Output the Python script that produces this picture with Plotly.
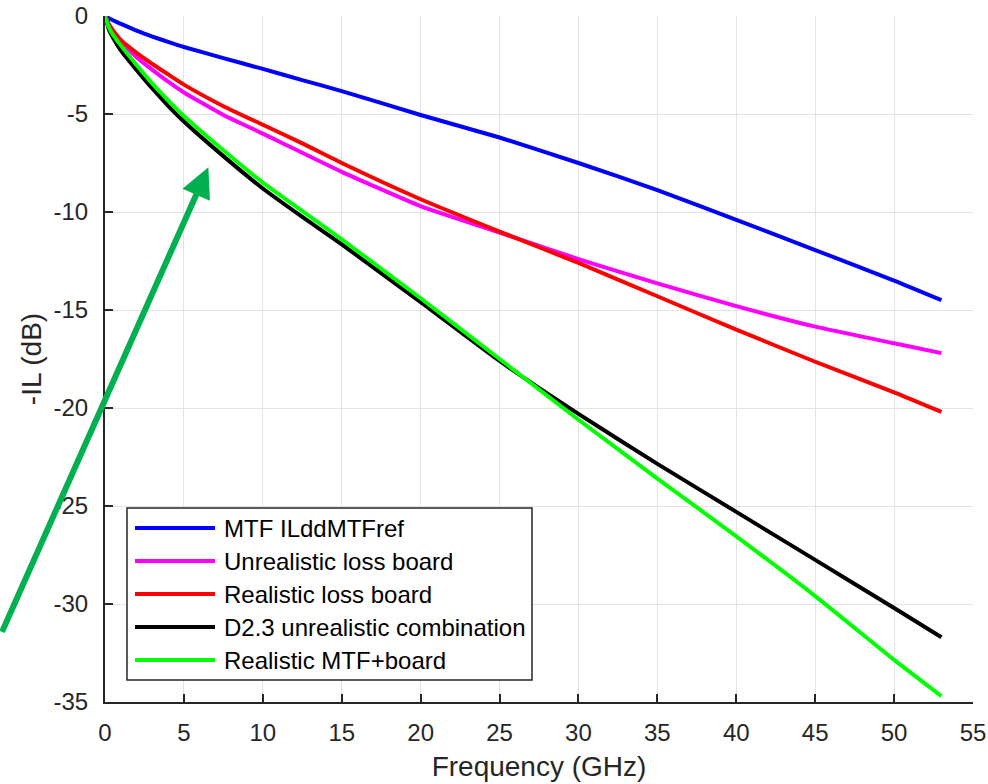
import plotly.graph_objects as go

# ---- data ----
freq_ghz = [0, 0.25, 0.5, 1, 2, 3, 4, 5, 7.5, 10, 12.5, 15, 20, 25, 30, 35, 40, 45, 50, 53]
mtf_ref = [0, -0.12, -0.22, -0.4, -0.75, -1.05, -1.32, -1.58, -2.15, -2.7, -3.27, -3.83,
           -5.05, -6.2, -7.5, -8.88, -10.4, -11.94, -13.5, -14.5]
unrealistic_board = [0, -0.45, -0.78, -1.3, -2.1, -2.75, -3.35, -3.9, -5.05, -6.0, -6.98, -7.95,
                     -9.7, -11.05, -12.4, -13.64, -14.8, -15.85, -16.7, -17.2]
realistic_board = [0, -0.42, -0.72, -1.22, -1.88, -2.45, -2.98, -3.5, -4.6, -5.55, -6.5, -7.5,
                   -9.35, -11.0, -12.6, -14.3, -16.0, -17.64, -19.2, -20.2]
d23_combination = [0, -0.7, -1.1, -1.75, -2.75, -3.7, -4.58, -5.38, -7.15, -8.8, -10.25, -11.65,
                   -14.6, -17.6, -20.3, -22.85, -25.3, -27.75, -30.2, -31.7]
realistic_mtf_board = [0, -0.6, -0.95, -1.5, -2.5, -3.45, -4.3, -5.1, -6.85, -8.5, -9.95, -11.4,
                       -14.4, -17.5, -20.6, -23.6, -26.55, -29.6, -32.85, -34.7]

series_names = ["MTF ILddMTFref", "Unrealistic loss board", "Realistic loss board",
                "D2.3 unrealistic combination", "Realistic MTF+board"]
series_values = [mtf_ref, unrealistic_board, realistic_board, d23_combination, realistic_mtf_board]
series_colors = ["#0000ff", "#ff00ff", "#ff0000", "#000000", "#00ff00"]

x_ticks = list(range(0, 56, 5))
x_tick_labels = [str(v) for v in x_ticks]
y_ticks = list(range(-35, 1, 5))
y_tick_labels = [str(v) for v in y_ticks]  # plain hyphen-minus, as in the reference

FONT = "Liberation Sans, Arial, Helvetica, sans-serif"
AX = "#262626"

fig = go.Figure()
for name, vals, col in zip(series_names, series_values, series_colors):
    fig.add_trace(go.Scatter(x=freq_ghz, y=vals, mode="lines", name=name,
                             line=dict(color=col, width=4, shape="spline", smoothing=0.5),
                             showlegend=False, hoverinfo="skip"))

# plot-area geometry (pixels) used to place the hand-drawn legend in paper coords
FW, FH = 988, 784
L, R, T, B = 105, 15, 16, 82
W, H = FW - L - R, FH - T - B


def px(xp):
    return (xp - L) / W


def py(yp):
    return (FH - B - yp) / H


shapes = [dict(type="rect", xref="paper", yref="paper",
               x0=px(127), x1=px(532), y0=py(680), y1=py(508),
               line=dict(color=AX, width=1.5), fillcolor="white", layer="above")]
annotations = []
row_y = [528, 561, 594, 627, 660]
for ry, name, col in zip(row_y, series_names, series_colors):
    shapes.append(dict(type="line", xref="paper", yref="paper",
                       x0=px(135), x1=px(215), y0=py(ry), y1=py(ry),
                       line=dict(color=col, width=4), layer="above"))
    annotations.append(dict(xref="paper", yref="paper", x=px(222), y=py(ry),
                            xanchor="left", yanchor="middle", text=name, showarrow=False,
                            font=dict(family=FONT, size=24, color="#000000")))

# green arrow annotation
annotations.append(dict(x=6.55, y=-7.72, xref="x", yref="y", text="", showarrow=True,
                        arrowhead=2, arrowsize=1, arrowwidth=6, arrowcolor="#00b050",
                        ax=-207, ay=466, axref="pixel", ayref="pixel", standoff=0))

fig.update_layout(
    width=FW, height=FH,
    margin=dict(l=L, r=R, t=T, b=B, autoexpand=False),
    paper_bgcolor="white", plot_bgcolor="white",
    font=dict(family=FONT, size=24, color=AX),
    shapes=shapes, annotations=annotations,
    showlegend=False,
)
fig.update_xaxes(range=[0, 55], tickvals=x_ticks, ticktext=x_tick_labels, ticks="inside",
                 ticklen=8, tickwidth=1.5, automargin=False,
                 tickcolor=AX, showline=True, linecolor=AX, linewidth=2, mirror=False,
                 showgrid=True, gridcolor="#e3e3e3", gridwidth=1, zeroline=False,
                 tickfont=dict(family=FONT, size=24, color=AX), ticklabelstandoff=8,
                 title=dict(text="Frequency (GHz)", font=dict(family=FONT, size=28, color=AX),
                            standoff=12))
fig.update_yaxes(range=[-35, 0], tickvals=y_ticks, ticktext=y_tick_labels, ticks="inside",
                 ticklen=8, tickwidth=1.5, automargin=False,
                 tickcolor=AX, showline=True, linecolor=AX, linewidth=2, mirror=False,
                 showgrid=True, gridcolor="#e3e3e3", gridwidth=1, zeroline=False,
                 tickfont=dict(family=FONT, size=24, color=AX), ticklabelstandoff=10,
                 title=dict(text="-IL (dB)", font=dict(family=FONT, size=28, color=AX),
                            standoff=4))

fig.write_html("out.html", config={"displayModeBar": False},
               post_script="document.body.style.margin='0';document.body.style.overflow='hidden';")
